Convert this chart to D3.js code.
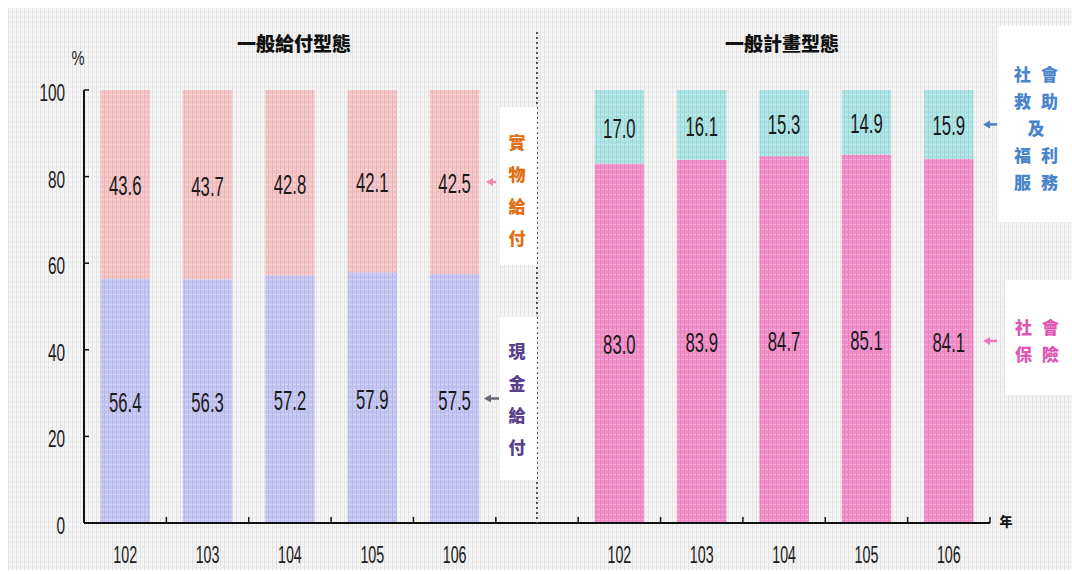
<!DOCTYPE html>
<html>
<head>
<meta charset="utf-8">
<script src="https://cdn.jsdelivr.net/npm/d3@7"></script>
<style>
  html, body { margin: 0; padding: 0; background: #ffffff; }
  svg { display: block; }
  .num { font-family: "Liberation Sans", Arial, sans-serif; fill: #1a1a1a; }
  .cjk { font-family: "Noto Sans CJK TC", "Noto Sans CJK SC", sans-serif; font-weight: 900; }
</style>
</head>
<body>
<svg id="chart" width="1072" height="574"></svg>
<script>
// Shares (%) by year, two breakdowns side by side
const years = ["102", "103", "104", "105", "106"];
const cashBenefit = [56.4, 56.3, 57.2, 57.9, 57.5];        // 現金給付
const inKindBenefit = [43.6, 43.7, 42.8, 42.1, 42.5];      // 實物給付
const socialInsurance = [83.0, 83.9, 84.7, 85.1, 84.1];    // 社會保險
const socialAssistance = [17.0, 16.1, 15.3, 14.9, 15.9];   // 社會救助及福利服務
const yTicks = [0, 20, 40, 60, 80, 100];
const panelTitles = ["一般給付型態", "一般計畫型態"];

const svg = d3.select("#chart");
const W = 1072, H = 574;

// canvas-like background with a faint woven texture
const defs = svg.append("defs");
const pat = defs.append("pattern").attr("id", "weave")
  .attr("width", 4).attr("height", 5).attr("patternUnits", "userSpaceOnUse");
pat.append("rect").attr("x", 0).attr("y", 0).attr("width", 1).attr("height", 5)
  .attr("fill", "#000").attr("opacity", 0.07);
pat.append("rect").attr("x", 2).attr("y", 1).attr("width", 1).attr("height", 2)
  .attr("fill", "#000").attr("opacity", 0.05);
pat.append("rect").attr("x", 1).attr("y", 4).attr("width", 3).attr("height", 1)
  .attr("fill", "#fff").attr("opacity", 0.25);

svg.append("rect").attr("x", 8).attr("y", 8).attr("width", W - 8).attr("height", H - 12)
  .attr("fill", "#f4f4f4");

// slots: five years on the left, an empty divider slot, five years on the right
const slots = years.map(y => "L" + y).concat(["gap"], years.map(y => "R" + y));
const x = d3.scaleBand().domain(slots).range([84, 990]).paddingInner(0.4).paddingOuter(0.2);
const step = x.step();
const y = d3.scaleLinear().domain([0, 100]).range([523, 90]);

const leftColors = { bottom: "#c6c6f5", top: "#f7c5c7" };
const rightColors = { bottom: "#f58fcc", top: "#ace5e6" };

const gBars = svg.append("g");
function drawStack(prefix, bottomVals, topVals, colors) {
  years.forEach((yr, i) => {
    const key = prefix + yr;
    const b = bottomVals[i], t = topVals[i];
    gBars.append("rect").attr("x", x(key)).attr("width", x.bandwidth())
      .attr("y", y(b)).attr("height", y(0) - y(b)).attr("fill", colors.bottom);
    gBars.append("rect").attr("x", x(key)).attr("width", x.bandwidth())
      .attr("y", y(b + t)).attr("height", y(b) - y(b + t)).attr("fill", colors.top);
  });
}
drawStack("L", cashBenefit, inKindBenefit, leftColors);
drawStack("R", socialInsurance, socialAssistance, rightColors);

// texture overlay across the whole picture
svg.append("rect").attr("x", 8).attr("y", 8).attr("width", W - 8).attr("height", H - 12)
  .attr("fill", "url(#weave)").style("pointer-events", "none");

// narrow numerals: a regular face squeezed horizontally
function numText(px, py, str, size, anchor, sx) {
  svg.append("text").attr("class", "num")
    .attr("transform", `translate(${px},${py}) scale(${sx},1)`)
    .attr("text-anchor", anchor).attr("font-size", size).text(str);
}

// value labels, centred in each segment
const fmt = d3.format(".1f");
function drawLabels(prefix, bottomVals, topVals) {
  years.forEach((yr, i) => {
    const cx = x(prefix + yr) + x.bandwidth() / 2;
    const b = bottomVals[i], t = topVals[i];
    numText(cx, y(b / 2) + 11, fmt(b), 27, "middle", 0.62);
    numText(cx, y(b + t / 2) + 11, fmt(t), 27, "middle", 0.62);
  });
}
drawLabels("L", cashBenefit, inKindBenefit);
drawLabels("R", socialInsurance, socialAssistance);

// axes
const axisG = svg.append("g").attr("stroke", "#111").attr("fill", "none");
axisG.append("line").attr("x1", 84).attr("x2", 84).attr("y1", y(100)).attr("y2", y(0)).attr("stroke-width", 2);
axisG.append("line").attr("x1", 84).attr("x2", 990).attr("y1", y(0)).attr("y2", y(0)).attr("stroke-width", 2);
yTicks.forEach(v => {
  axisG.append("line").attr("x1", 84).attr("x2", 89).attr("y1", y(v)).attr("y2", y(v)).attr("stroke-width", 1.5);
  numText(65, y(v) + 11, v, 24, "end", 0.64);
});
// tick marks between slots
d3.range(1, slots.length + 1).forEach(k => {
  const tx = 84 + k * step;
  axisG.append("line").attr("x1", tx).attr("x2", tx).attr("y1", y(0)).attr("y2", y(0) - 6).attr("stroke-width", 1.5);
});
// year labels
slots.filter(s => s !== "gap").forEach(s => {
  numText(x(s) + x.bandwidth() / 2, 563, s.slice(1), 23, "middle", 0.62);
});
numText(78, 65, "%", 21, "middle", 0.7);
svg.append("text").attr("class", "cjk").attr("x", 1006).attr("y", 526)
  .attr("text-anchor", "middle").attr("font-size", 13).attr("fill", "#111").text("年");

// dotted divider between the two panels
const divX = x("gap") + x.bandwidth() / 2;
svg.append("line").attr("x1", divX).attr("x2", divX).attr("y1", 32).attr("y2", y(0))
  .attr("stroke", "#555").attr("stroke-width", 2).attr("stroke-dasharray", "2,3");

// panel titles
const leftCenter = (x("L" + years[0]) + x("L" + years[4]) + x.bandwidth()) / 2;
const rightCenter = (x("R" + years[0]) + x("R" + years[4]) + x.bandwidth()) / 2;
[leftCenter + 4, rightCenter - 2].forEach((cx, i) => {
  svg.append("text").attr("class", "cjk").attr("x", cx).attr("y", 51)
    .attr("text-anchor", "middle").attr("font-size", 19).attr("fill", "#111").text(panelTitles[i]);
});

// legend boxes with vertical captions
function box(x0, y0, w, h) {
  svg.append("rect").attr("x", x0).attr("y", y0).attr("width", w).attr("height", h).attr("fill", "#ffffff");
}
function chars(rows, cx, y0, dy, dx, color, size) {
  rows.forEach((row, r) => {
    const arr = Array.from(row);
    arr.forEach((ch, c) => {
      const px = cx + (c - (arr.length - 1) / 2) * dx;
      svg.append("text").attr("class", "cjk").attr("x", px).attr("y", y0 + r * dy)
        .attr("text-anchor", "middle").attr("dominant-baseline", "central")
        .attr("font-size", size).attr("fill", color).text(ch);
    });
  });
}
box(500, 107, 37, 158);
chars(["實", "物", "給", "付"], 517, 141, 32, 0, "#e26d12", 17);
box(500, 317, 37, 163);
chars(["現", "金", "給", "付"], 517, 350, 32, 0, "#5b3f8c", 17);
box(998, 26, 74, 196);
chars(["社會", "救助", "及", "福利", "服務"], 1036, 73, 27, 27, "#4a85cc", 17);
box(1005, 280, 67, 115);
chars(["社會", "保險"], 1037, 326, 27, 27, "#e054b4", 17);

// pointer arrows toward the last bar's segments
function arrow(x1, x2, yy, color) {
  svg.append("line").attr("x1", x1 + 4).attr("x2", x2).attr("y1", yy).attr("y2", yy)
    .attr("stroke", color).attr("stroke-width", 2.5);
  svg.append("path").attr("d", `M${x1},${yy} L${x1 + 7},${yy - 4} L${x1 + 7},${yy + 4} Z`).attr("fill", color);
}
const last = years.length - 1;
arrow(486, 496, y(cashBenefit[last] + inKindBenefit[last] / 2), "#f08aa8");
arrow(484, 499, y(cashBenefit[last] / 2), "#666a78");
arrow(983, 997, y(socialInsurance[last] + socialAssistance[last] / 2), "#4a7fc4");
arrow(983, 997, y(socialInsurance[last] / 2), "#ea78b8");
</script>
</body>
</html>
